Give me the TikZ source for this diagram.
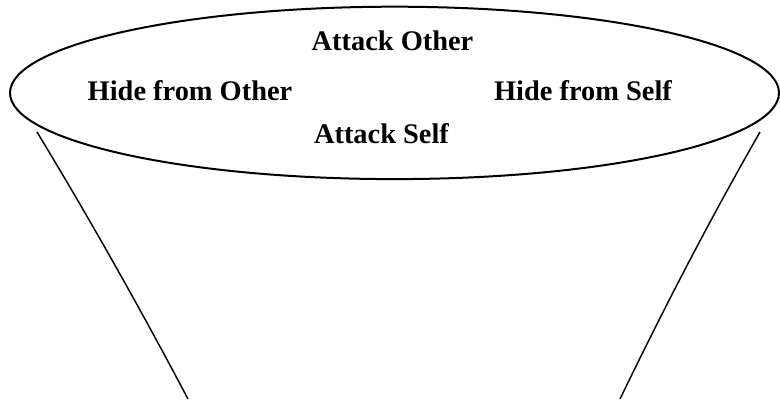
\documentclass[tikz,border=0pt]{standalone}
\usepackage{fontspec}
\setmainfont{Liberation Serif}

\tikzset{
	label text/.style={font=\fontsize{21.3}{24}\selectfont\bfseries, anchor=base, inner sep=0pt},
}

\begin{document}
\begin{tikzpicture}[x=0.75pt, y=-0.75pt]
	\useasboundingbox (0, 0) rectangle (780, 399);

	% ellipse
	\draw [line width=1.5pt] (394.5, 92.9) ellipse [x radius=384.5, y radius=86.2];

	% labels
	\node[label text] (atkother) at (392.5, 51) {Attack Other};
	\node[label text] (hideother) at (190, 101) {Hide from Other};
	\node[label text] (hideself) at (583, 101) {Hide from Self};
	\node[label text] (atkself) at (381.5, 143) {Attack Self};

	% sides
	\draw [line width=1.1pt] (37, 132) .. controls (91, 221) and (141, 310) .. (188, 399);
	\draw [line width=1.1pt] (760, 132) .. controls (709, 221) and (663, 310) .. (620, 399);
\end{tikzpicture}
\end{document}
